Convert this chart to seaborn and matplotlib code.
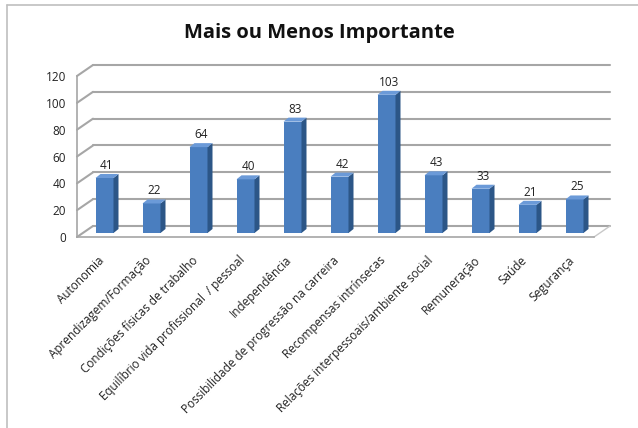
import matplotlib.pyplot as plt
import seaborn as sns
from matplotlib.patches import Polygon
from matplotlib.lines import Line2D
from matplotlib.transforms import ScaledTranslation

# dados do gráfico
categorias = [
    "Autonomia",
    "Aprendizagem/Formação",
    "Condições físicas de trabalho",
    "Equilíbrio vida profissional  / pessoal",
    "Independência",
    "Possibilidade de progressão na carreira",
    "Recompensas intrínsecas",
    "Relações interpessoais/ambiente social",
    "Remuneração",
    "Saúde",
    "Segurança",
]
valores = [41, 22, 64, 40, 83, 42, 103, 43, 33, 21, 25]
y_ticks = [0, 20, 40, 60, 80, 100, 120]

sns.set_style("white")
plt.rcParams["font.family"] = ["Open Sans", "DejaVu Sans"]

W, H = 638, 428
fig = plt.figure(figsize=(W / 100, H / 100), dpi=100)
# eixo frontal: x de 77 a 594 px, y de 237 (0) a 76 (120)
ax = fig.add_axes([77 / W, 1 - 237 / H, 517 / W, 161 / H])

px_cat = 517 / len(categorias)
px_val = 161 / 120

# profundidade (efeito 3D) em unidades de dados
WX, WY = 16 / px_cat, 11 / px_val      # parede do fundo
FX, FY = 4 / px_cat, 4 / px_val        # face frontal das barras
BX, BY = 5 / px_cat, 4 / px_val        # espessura das barras

azul = "#4a7ebf"
azul_lado = "#2c5687"
azul_topo = "#6b9ad8"
cinza = "#a6a6a6"

sns.barplot(x=categorias, y=valores, color=azul, saturation=1, width=18 / px_cat,
            ax=ax, zorder=3)

x0, x1 = -0.5, len(categorias) - 0.5

# grelha (parede do fundo + parede lateral)
for v in y_ticks:
    ax.add_line(Line2D([x0 + WX, x1 + WX], [v + WY, v + WY], color=cinza, lw=1.5,
                       clip_on=False, zorder=1))
    ax.add_line(Line2D([x0, x0 + WX], [v, v + WY], color=cinza, lw=1.5,
                       clip_on=False, zorder=1))
# chão
ax.add_line(Line2D([x1, x1 + WX], [0, WY], color="#c8c8c8", lw=1.0, clip_on=False, zorder=1))

# barras 3D: desloca a face frontal e acrescenta lado e topo
for p, v in zip(ax.patches, valores):
    bx = p.get_x() + FX
    bw = p.get_width()
    p.set_x(bx)
    p.set_y(FY)
    p.set_edgecolor("none")
    top = v + FY
    lado = Polygon([(bx + bw, FY), (bx + bw + BX, FY + BY), (bx + bw + BX, top + BY),
                    (bx + bw, top)], closed=True, fc=azul_lado, ec="none",
                   zorder=3, clip_on=False)
    topo = Polygon([(bx, top), (bx + bw, top), (bx + bw + BX, top + BY),
                    (bx + BX, top + BY)], closed=True, fc=azul_topo, ec="none",
                   zorder=3, clip_on=False)
    ax.add_patch(lado)
    ax.add_patch(topo)
    ax.text(bx + bw / 2 + BX / 2, top + BY + 1.5, str(v), ha="center", va="bottom",
            fontsize=8.5, color="#222222", clip_on=False)

ax.set_xlim(x0, x1)
ax.set_ylim(0, 120)
ax.set_yticks(y_ticks)
ax.set_xlabel("")
ax.set_ylabel("")

for s in ["top", "right"]:
    ax.spines[s].set_visible(False)
for s in ["left", "bottom"]:
    ax.spines[s].set_color(cinza)
    ax.spines[s].set_linewidth(1.2)

ax.tick_params(axis="y", length=4, color=cinza, labelsize=8.5, pad=4, labelcolor="#222222")
ax.set_xticks(range(len(categorias)))
ax.set_xticks([i - 0.5 for i in range(len(categorias) + 1)], minor=True)
ax.tick_params(axis="x", which="major", length=0, pad=12)
ax.tick_params(axis="x", which="minor", length=4, color=cinza, direction="out")
ax.set_xticklabels(categorias, rotation=45, ha="right", rotation_mode="anchor",
                   fontsize=8.5, color="#222222")
desloc = ScaledTranslation(-3 / 100, 0, fig.dpi_scale_trans)
for lbl in ax.get_xticklabels():
    lbl.set_transform(lbl.get_transform() + desloc)

fig.text(0.5, 1 - 33 / H, "Mais ou Menos Importante", ha="center", va="center",
         fontsize=14.5, fontweight="bold", color="#111111")

# moldura do gráfico
fig.add_artist(Line2D([7 / W, 1], [1 - 5 / H, 1 - 5 / H], color="#bfbfbf", lw=1.2))
fig.add_artist(Line2D([7 / W, 7 / W], [0, 1 - 5 / H], color="#bfbfbf", lw=1.2))

fig.savefig("out.png", dpi=100)
